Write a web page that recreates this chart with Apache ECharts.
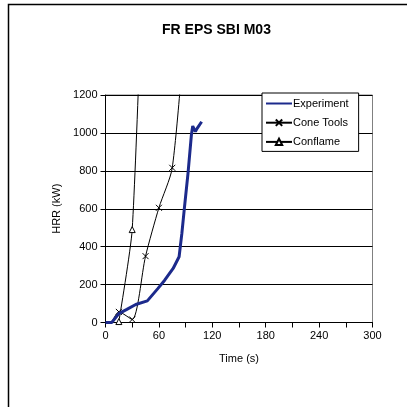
<!DOCTYPE html>
<html><head><meta charset="utf-8">
<script src="https://cdn.jsdelivr.net/npm/echarts@6/dist/echarts.min.js"></script>
<style>html,body{margin:0;padding:0;background:#fff}#c{width:407px;height:407px}</style>
</head><body><div id="c"></div>
<script>
var expTime = [0, 7, 15, 24, 34, 47, 59, 66.5, 76, 82.7, 85.8, 88.8, 92.7, 96.5, 98, 100, 101, 103, 108];
var expHRR  = [0, 0, 47, 69, 95, 114, 180, 223, 285, 347, 470, 611, 787, 989, 1036, 1033, 1007, 1024, 1059];
var coneTime = [7, 15, 30, 45, 60, 75, 90];
var coneHRR  = [0, 56, 16, 350, 605, 816, 1600];
var conflTime = [15, 30, 45];
var conflHRR  = [5, 490, 2300];
var xTicks = [0, 60, 120, 180, 240, 300];
var yTicks = [0, 200, 400, 600, 800, 1000, 1200];

function pairs(a, b){ return a.map(function(v,i){ return [v, b[i]]; }); }
var FONT = '"Liberation Sans", Arial, sans-serif';
var xPath = 'path://M0,0L10,10M10,0L0,10';

var chart = echarts.init(document.getElementById('c'), null, {renderer:'canvas'});
var coneData = pairs(coneTime, coneHRR).map(function(p,i){
  return i === 0 ? {value:p, symbol:'none'} : {value:p};
});
chart.setOption({
  animation: false,
  backgroundColor: '#fff',
  title: {text: 'FR EPS SBI M03', left: 157, top: 18,
    textStyle: {fontFamily: FONT, fontSize: 14, fontWeight: 'bold', color: '#000'}},
  graphic: [
    {type:'polyline', shape:{points:[[8.5,410],[8.5,4.5],[410,4.5]]}, style:{stroke:'#000', lineWidth:1.5, fill:null}, silent:true}
  ],
  grid: {left: 105.5, top: 95, right: 34.5, bottom: 84.5, show: true, borderColor: '#808080', borderWidth: 1, containLabel: false},
  legend: {
    orient: 'vertical', left: 262, top: 93, width: 97,
    backgroundColor: '#fff', borderColor: '#000', borderWidth: 1,
    padding: [5, 10, 4, 3], itemGap: 8, itemWidth: 26, itemHeight: 8,
    textStyle: {fontFamily: FONT, fontSize: 11, color: '#000', padding:[0,0,0,-4]},
    data: [{name:'Experiment', itemStyle:{opacity:0}}, {name:'Cone Tools'}, {name:'Conflame'}]
  },
  xAxis: {
    type: 'value', min: 0, max: 300, interval: 30,
    name: 'Time (s)', nameLocation: 'middle', nameGap: 31,
    nameTextStyle: {fontFamily: FONT, fontSize: 11, color: '#000'},
    axisLine: {lineStyle: {color: '#000', width: 1}},
    axisTick: {show: true, inside: false, length: 5, lineStyle: {color: '#000'}},
    axisLabel: {fontFamily: FONT, fontSize: 11, color: '#000', margin: 8,
      formatter: function(v){ return xTicks.indexOf(v) >= 0 ? String(v) : ''; }},
    splitLine: {show: false}
  },
  yAxis: {
    type: 'value', min: 0, max: 1200, interval: 200,
    name: 'HRR (kW)', nameLocation: 'middle', nameGap: 33, nameRotate: 90,
    nameTextStyle: {fontFamily: FONT, fontSize: 11, color: '#000'},
    axisLine: {show: true, lineStyle: {color: '#000', width: 1}},
    axisTick: {show: true, inside: false, length: 5, lineStyle: {color: '#000'}},
    axisLabel: {fontFamily: FONT, fontSize: 11, color: '#000', margin: 8,
      formatter: function(v){ return yTicks.indexOf(v) >= 0 ? String(v) : ''; }},
    splitLine: {show: true, lineStyle: {color: '#000', width: 1}}
  },
  series: [
    {name: 'Experiment', type: 'line', data: pairs(expTime, expHRR), showSymbol: false, symbol: 'none',
     lineStyle: {color: '#1c2a8c', width: 3}, itemStyle: {color: '#1c2a8c'}, z: 3},
    {name: 'Cone Tools', type: 'line', data: coneData, smooth: 0.25,
     symbol: xPath, symbolSize: 6,
     lineStyle: {color: '#000', width: 1}, itemStyle: {color: 'none', borderColor: '#000', borderWidth: 1}, z: 2},
    {name: 'Conflame', type: 'line', data: pairs(conflTime, conflHRR), smooth: 0.2,
     symbol: 'triangle', symbolSize: 6,
     lineStyle: {color: '#000', width: 1}, itemStyle: {color: '#fff', borderColor: '#000', borderWidth: 1}, z: 2}
  ]
});
</script></body></html>
